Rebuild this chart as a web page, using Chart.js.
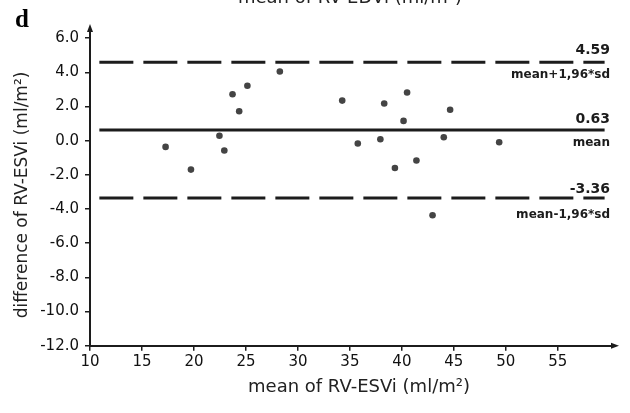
<!DOCTYPE html>
<html>
<head>
<meta charset="utf-8">
<script src="https://cdn.jsdelivr.net/npm/chart.js@4"></script>
<style>
  html, body { margin: 0; padding: 0; background: #fff; }
  #wrap { width: 630px; height: 413px; }
</style>
</head>
<body>
<div id="wrap"><canvas id="c" width="630" height="413"></canvas></div>
<script>
// ---- data ----
const meanValues = [17.27, 19.71, 22.45, 22.92, 23.71, 24.35, 25.14, 28.26, 34.26, 35.76, 37.93, 38.30, 39.33, 40.16, 40.50, 41.40, 42.95, 44.03, 44.64, 49.36];
const diffValues = [-0.36, -1.69, 0.29, -0.57, 2.72, 1.73, 3.22, 4.05, 2.35, -0.16, 0.09, 2.18, -1.60, 1.16, 2.82, -1.16, -4.36, 0.20, 1.81, -0.09];
const meanDiff = 0.63;
const upperLimit = 4.59;
const lowerLimit = -3.36;
const lineSpan = [10.9, 59.5];
const xTicks = [10, 15, 20, 25, 30, 35, 40, 45, 50, 55];
const yTicks = [-12, -10, -8, -6, -4, -2, 0, 2, 4, 6];
const panelLabel = 'd';
const xTitle = 'mean of RV-ESVi (ml/m²)';
const yTitle = 'difference of RV-ESVi (ml/m²)';
const topCutTitle = 'mean of RV-EDVi (ml/m²)';
const upperLabel = 'mean+1,96*sd';
const meanLabel = 'mean';
const lowerLabel = 'mean-1,96*sd';

const points = meanValues.map((x, i) => ({ x, y: diffValues[i] }));
const hLine = v => lineSpan.map(x => ({ x, y: v }));

const INK = '#1c1c1c';
const FONT = '"DejaVu Sans", sans-serif';

const decor = {
  id: 'decor',
  afterDraw(chart) {
    const { ctx, scales: { x, y }, chartArea } = chart;
    ctx.save();
    ctx.fillStyle = INK;
    ctx.strokeStyle = INK;

    // arrowheads
    const ax = chartArea.left, ay = chartArea.top;
    ctx.beginPath();
    ctx.moveTo(ax, ay - 4); ctx.lineTo(ax - 3, ay + 4); ctx.lineTo(ax + 3, ay + 4); ctx.closePath(); ctx.fill();
    const bx = chartArea.right, by = chartArea.bottom;
    ctx.beginPath();
    ctx.moveTo(bx + 4, by); ctx.lineTo(bx - 4, by - 3); ctx.lineTo(bx - 4, by + 3); ctx.closePath(); ctx.fill();

    // line labels
    const rx = 610;
    ctx.textAlign = 'right';
    ctx.textBaseline = 'alphabetic';
    const yu = y.getPixelForValue(upperLimit), ym = y.getPixelForValue(meanDiff), yl = y.getPixelForValue(lowerLimit);
    ctx.font = 'bold 14px ' + FONT;
    ctx.fillText(upperLimit.toFixed(2), rx, yu - 8);
    ctx.fillText(meanDiff.toFixed(2), rx, ym - 7);
    ctx.fillText(lowerLimit.toFixed(2), rx, yl - 5);
    ctx.font = 'bold 12px ' + FONT;
    ctx.fillText(upperLabel, rx, yu + 16);
    ctx.fillText(meanLabel, rx, ym + 16);
    ctx.fillText(lowerLabel, rx, yl + 20);

    // panel label
    ctx.textAlign = 'left';
    ctx.font = 'bold 25px "Liberation Serif", serif';
    ctx.fillStyle = '#000';
    ctx.fillText(panelLabel, 15, 27);

    // cut-off title of the panel above
    ctx.fillStyle = '#222';
    ctx.textAlign = 'center';
    ctx.font = '18px ' + FONT;
    ctx.fillText(topCutTitle, 350, 3);

    // axis titles
    ctx.textBaseline = 'middle';
    ctx.font = '18px ' + FONT;
    ctx.fillText(xTitle, 359, 387);
    ctx.translate(23, 195);
    ctx.rotate(-Math.PI / 2);
    ctx.font = '17px ' + FONT;
    ctx.fillText(yTitle, 0, 0);
    ctx.restore();
  }
};

new Chart(document.getElementById('c'), {
  type: 'scatter',
  data: {
    datasets: [
      { data: points, pointRadius: 3.3, pointHoverRadius: 3.3, backgroundColor: '#444', borderWidth: 0, order: 0 },
      { type: 'line', data: hLine(upperLimit), borderColor: INK, borderWidth: 3, borderDash: [34, 10], pointRadius: 0, fill: false, order: 1 },
      { type: 'line', data: hLine(meanDiff), borderColor: INK, borderWidth: 3, pointRadius: 0, fill: false, order: 1 },
      { type: 'line', data: hLine(lowerLimit), borderColor: INK, borderWidth: 3, borderDash: [34, 10], pointRadius: 0, fill: false, order: 1 }
    ]
  },
  options: {
    responsive: false,
    animation: false,
    events: [],
    layout: { padding: { left: 0, top: 28, right: 15, bottom: 0 } },
    plugins: { legend: { display: false }, tooltip: { enabled: false }, title: { display: false } },
    scales: {
      x: {
        type: 'linear', min: 10, max: 60.5,
        afterBuildTicks: s => { s.ticks = xTicks.map(v => ({ value: v })); },
        afterFit: s => { s.height = 67.3; },
        grid: { display: true, drawOnChartArea: false, drawTicks: true, tickLength: 5, color: INK, lineWidth: 1.5 },
        border: { display: true, color: INK, width: 2 },
        ticks: { color: '#111', font: { family: FONT, size: 15 }, padding: 2, maxRotation: 0, autoSkip: false, callback: v => String(v) }
      },
      y: {
        type: 'linear', min: -12, max: 6.6,
        afterBuildTicks: s => { s.ticks = yTicks.map(v => ({ value: v })); },
        afterFit: s => { s.width = 90; },
        grid: { display: true, drawOnChartArea: false, drawTicks: true, tickLength: 5, color: INK, lineWidth: 1.5 },
        border: { display: true, color: INK, width: 2 },
        ticks: { color: '#111', font: { family: FONT, size: 15 }, padding: 6, autoSkip: false, callback: v => Number(v).toFixed(1) }
      }
    }
  },
  plugins: [decor]
});
</script>
</body>
</html>
